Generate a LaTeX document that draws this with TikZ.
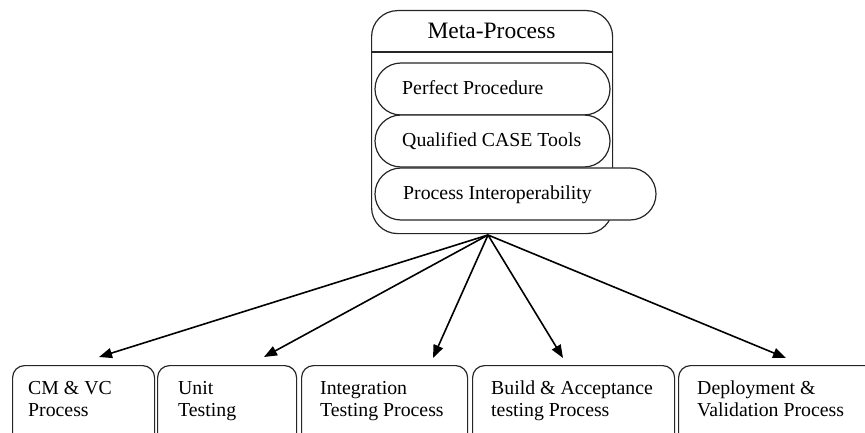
\documentclass[tikz,border=0pt]{standalone}
\usepackage{fontspec}
\setmainfont{Liberation Serif}
\usetikzlibrary{arrows.meta,shapes.misc}
\begin{document}
\begin{tikzpicture}[x=1pt,y=-1pt,
  outline/.style={draw=black!85, line width=1.2pt},
  pill/.style={outline, rounded rectangle, fill=white, minimum height=52pt, inner sep=0pt},
  procbox/.style={outline, rounded corners=12pt, fill=white, minimum height=90pt, inner sep=0pt, anchor=north west},
  lbl/.style={font=\fontsize{19.8}{22.5}\selectfont, anchor=base west, inner sep=0pt, align=left},
  arr/.style={line width=1.6pt, -{Triangle[length=13pt,width=10pt]}}]
\clip (0,0) rectangle (865,433);
\fill[white] (0,0) rectangle (865,433);
% meta-process container
\node[outline, rounded corners=26pt, minimum width=241pt, minimum height=223pt, anchor=north west, inner sep=0pt] (meta) at (371,10) {};
\coordinate (hdr) at (0,52);
\draw[outline] (meta.west |- hdr) -- (meta.east |- hdr);
\node[font=\fontsize{23.5}{28}\selectfont, anchor=base, inner sep=0pt] (mt) at (491.5,39) {Meta-Process};
% inner items
\node[pill, minimum width=235pt] (pp) at (492.5,89) {};
\node[lbl] (ppt) at (402,95) {Perfect Procedure};
\node[pill, minimum width=235pt] (qc) at (492.5,141) {};
\node[lbl] (qct) at (402,147) {Qualified CASE Tools};
\node[pill, minimum width=281pt] (pi) at (515.5,194) {};
\node[lbl] (pit) at (403,200) {Process Interoperability};
% bottom process boxes
\node[procbox, minimum width=142pt] (b1) at (12,365) {};
\node[procbox, minimum width=139pt] (b2) at (157,365) {};
\node[procbox, minimum width=166pt] (b3) at (301,365) {};
\node[procbox, minimum width=202pt] (b4) at (472,365) {};
\node[procbox, minimum width=200pt] (b5) at (678,365) {};
% (base anchor of a two-line label is the baseline of its last line)
\node[lbl] (b1t) at (28,416.5) {CM \& VC\\Process};
\node[lbl] (b2t) at (178,416.5) {Unit\\Testing};
\node[lbl] (b3t) at (320,416.5) {Integration\\Testing Process};
\node[lbl] (b4t) at (491,416.5) {Build \& Acceptance\\testing Process};
\node[lbl] (b5t) at (697,416.5) {Deployment \&\\Validation Process};
% connectors
\coordinate (src) at (488,235);
\coordinate (t1) at (99,357);
\coordinate (t2) at (264,357);
\coordinate (t3) at (433,358);
\coordinate (t4) at (563,358);
\coordinate (t5) at (786,358);
\draw[arr] (src) -- (t1);
\draw[arr] (src) -- (t2);
\draw[arr] (src) -- (t3);
\draw[arr] (src) -- (t4);
\draw[arr] (src) -- (t5);
\end{tikzpicture}
\end{document}
